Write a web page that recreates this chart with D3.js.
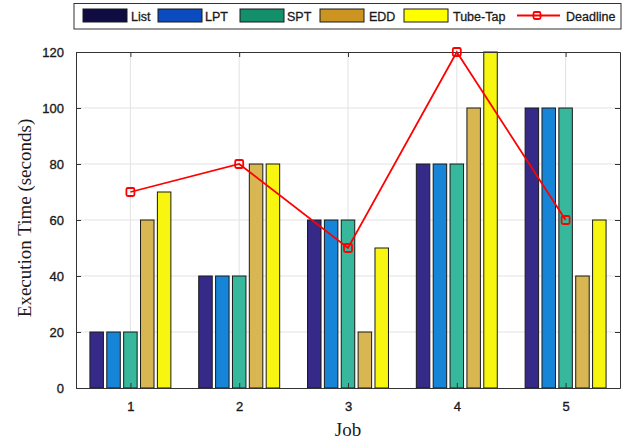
<!DOCTYPE html>
<html>
<head>
<meta charset="utf-8">
<script src="https://cdn.jsdelivr.net/npm/d3@7"></script>
<style>
  html, body { margin: 0; padding: 0; background: #fff; }
  svg { display: block; }
</style>
</head>
<body>
<div id="chart"></div>
<script>
// ---- data ----
const jobs = [1, 2, 3, 4, 5];
const seriesNames = ["List", "LPT", "SPT", "EDD", "Tube-Tap"];
const listValues = [20, 40, 60, 80, 100];
const lptValues = [20, 40, 60, 80, 100];
const sptValues = [20, 40, 60, 80, 100];
const eddValues = [60, 80, 20, 100, 40];
const tubeTapValues = [70, 80, 50, 120, 60];
const deadlineValues = [70, 80, 50, 120, 60];
const yTicks = [0, 20, 40, 60, 80, 100, 120];
const xTickLabels = ["1", "2", "3", "4", "5"];

const barColors = ["#352a87", "#1685d8", "#37b89d", "#d8b753", "#f8f510"];
const legendColors = ["#0e0c40", "#0a4bc0", "#13906b", "#cc9522", "#ffff00"];
const seriesValues = [listValues, lptValues, sptValues, eddValues, tubeTapValues];

const W = 629, H = 442;
const plot = { left: 76, right: 620, top: 52, bottom: 388 };

const svg = d3.select("#chart").append("svg").attr("width", W).attr("height", H);

const x = d3.scaleLinear().domain([0.5, 5.5]).range([plot.left, plot.right]);
const y = d3.scaleLinear().domain([0, 120]).range([plot.bottom, plot.top]);

const sansFont = "'Liberation Sans', Arial, sans-serif";
const serifFont = "'Liberation Serif', 'Times New Roman', serif";

// grid
const grid = svg.append("g");
grid.selectAll("line.hg").data(yTicks.filter(d => d > 0 && d < 120)).enter().append("line")
  .attr("x1", plot.left).attr("x2", plot.right)
  .attr("y1", d => y(d)).attr("y2", d => y(d))
  .attr("stroke", "#e2e2e2").attr("stroke-width", 1);
grid.selectAll("line.vg").data(jobs).enter().append("line")
  .attr("x1", d => x(d)).attr("x2", d => x(d))
  .attr("y1", plot.top).attr("y2", plot.bottom)
  .attr("stroke", "#e2e2e2").attr("stroke-width", 1);

// bars
const pitch = 0.155, bw = 0.124;
const barsData = [];
seriesValues.forEach((vals, si) => {
  vals.forEach((v, ji) => barsData.push({ si, job: jobs[ji], v }));
});
svg.append("g").selectAll("rect").data(barsData).enter().append("rect")
  .attr("x", d => x(d.job + (d.si - 2) * pitch - bw / 2))
  .attr("width", d => x(bw) - x(0))
  .attr("y", d => y(d.v))
  .attr("height", d => y(0) - y(d.v))
  .attr("fill", d => barColors[d.si])
  .attr("stroke", "#1a1a1a").attr("stroke-width", 1);

// axes
const axisColor = "#333";
const xAxis = d3.axisBottom(x).tickValues(jobs).tickFormat((d, i) => xTickLabels[i]).tickSizeInner(-5).tickSizeOuter(0).tickPadding(14);
const gx = svg.append("g").attr("transform", `translate(0,${plot.bottom})`).call(xAxis);
const yAxis = d3.axisLeft(y).tickValues(yTicks).tickSizeInner(-5).tickSizeOuter(0).tickPadding(12);
const gy = svg.append("g").attr("transform", `translate(${plot.left},0)`).call(yAxis);
const xTop = d3.axisTop(x).tickValues(jobs).tickFormat("").tickSizeInner(-5).tickSizeOuter(0);
const gxt = svg.append("g").attr("transform", `translate(0,${plot.top})`).call(xTop);
const yRight = d3.axisRight(y).tickValues(yTicks).tickFormat("").tickSizeInner(-5).tickSizeOuter(0);
const gyr = svg.append("g").attr("transform", `translate(${plot.right},0)`).call(yRight);
[gx, gy, gxt, gyr].forEach(g => {
  g.select(".domain").attr("stroke", axisColor).attr("stroke-width", 1);
  g.selectAll(".tick line").attr("stroke", axisColor);
  g.selectAll("text").attr("font-family", sansFont).attr("font-size", 13).attr("fill", "#1a1a1a")
    .attr("stroke", "#1a1a1a").attr("stroke-width", 0.35);
});

// deadline line
const line = d3.line().x((d, i) => x(jobs[i])).y(d => y(d));
svg.append("path").datum(deadlineValues).attr("d", line)
  .attr("fill", "none").attr("stroke", "#ff0000").attr("stroke-width", 1.8);
svg.append("g").selectAll("rect").data(deadlineValues).enter().append("rect")
  .attr("x", (d, i) => x(jobs[i]) - 4).attr("y", d => y(d) - 4)
  .attr("width", 8).attr("height", 8).attr("rx", 1.5)
  .attr("fill", "none").attr("stroke", "#ff0000").attr("stroke-width", 1.8);

// axis titles
svg.append("text").attr("x", (plot.left + plot.right) / 2).attr("y", 436)
  .attr("text-anchor", "middle").attr("font-family", serifFont).attr("font-size", 19).attr("fill", "#1a1a1a")
  .text("Job");
svg.append("text").attr("transform", `translate(31,${(113 + 323) / 2}) rotate(-90)`)
  .attr("text-anchor", "middle").attr("font-family", serifFont).attr("font-size", 19).attr("fill", "#1a1a1a")
  .text("Execution Time (seconds)");

// legend
const lg = svg.append("g");
lg.append("rect").attr("x", 74).attr("y", 3.5).attr("width", 547).attr("height", 25.5)
  .attr("fill", "#fff").attr("stroke", "#333").attr("stroke-width", 1);
const swatchX = [83, 158, 240, 320, 404];
const textX = [131, 205, 287, 369, 453];
seriesNames.forEach((name, i) => {
  lg.append("rect").attr("x", swatchX[i]).attr("y", 9).attr("width", 44).attr("height", 13)
    .attr("fill", legendColors[i]).attr("stroke", "#1a1a1a").attr("stroke-width", 1);
  lg.append("text").attr("x", textX[i]).attr("y", 20.5).attr("font-family", sansFont).attr("font-size", 12.5)
    .attr("fill", "#1a1a1a").attr("stroke", "#1a1a1a").attr("stroke-width", 0.3).text(name);
});
lg.append("line").attr("x1", 517).attr("x2", 560).attr("y1", 15.5).attr("y2", 15.5)
  .attr("stroke", "#ff0000").attr("stroke-width", 1.8);
lg.append("rect").attr("x", 533.5).attr("y", 12).attr("width", 7).attr("height", 7).attr("rx", 1.5)
  .attr("fill", "none").attr("stroke", "#ff0000").attr("stroke-width", 1.8);
lg.append("text").attr("x", 566).attr("y", 20.5).attr("font-family", sansFont).attr("font-size", 12.5)
  .attr("fill", "#1a1a1a").attr("stroke", "#1a1a1a").attr("stroke-width", 0.3).text("Deadline");
</script>
</body>
</html>
